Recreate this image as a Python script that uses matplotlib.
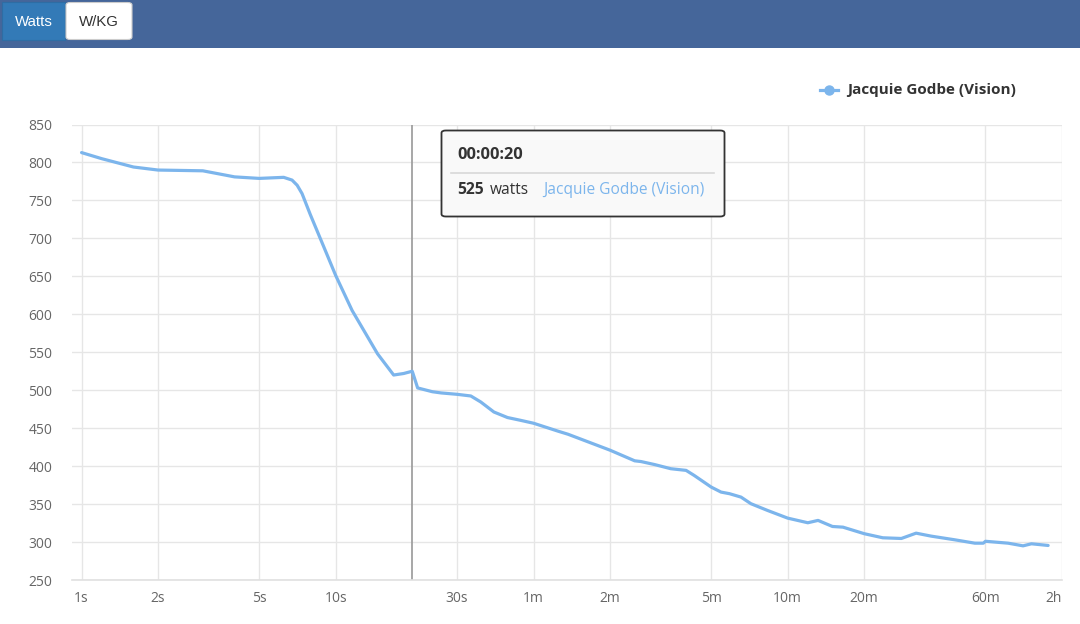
import matplotlib
matplotlib.use("Agg")
import matplotlib.pyplot as plt
from matplotlib.patches import FancyBboxPatch, Rectangle
from matplotlib.lines import Line2D

# ---- data ----
durations = [1, 1.2, 1.6, 2, 3, 4, 5, 6.24, 6.73, 7.05, 7.37, 7.95, 8.97, 10, 11.6, 14.6,
             16.9, 18.5, 20, 21, 24, 26, 30, 34, 37.2, 41.9, 47.4, 53.4, 60, 75, 82, 120,
             150, 159, 180, 208, 239, 257, 300, 328, 354, 393, 430, 500, 600, 720, 790,
             900, 990, 1200, 1420, 1680, 1920, 2200, 2720, 3270, 3530, 3600, 4420, 5060,
             5460, 6350]
watts = [813, 805, 794, 790, 789, 781, 779, 780.4, 776.8, 770, 759, 731, 689, 651, 605, 548,
         520, 522, 525, 503, 498, 496.4, 494.6, 492.4, 484.5, 471.3, 464, 460.3, 456.5, 446,
         442, 421, 407, 406, 402, 396.6, 394.4, 387.8, 372.4, 365.8, 363.7, 359.2, 350.5,
         341.6, 331.5, 325.4, 328.5, 320.5, 319.6, 311, 305.6, 304.7, 311.7, 307.8, 303,
         298.5, 298.5, 301, 298.5, 295, 297.7, 295.5]
tick_secs = [1, 2, 5, 10, 30, 60, 120, 300, 600, 1200, 3600, 7200]
tick_labels = ["1s", "2s", "5s", "10s", "30s", "1m", "2m", "5m", "10m", "20m", "60m", "2h"]
y_ticks = [250, 300, 350, 400, 450, 500, 550, 600, 650, 700, 750, 800, 850]
series_name = "Jacquie Godbe (Vision)"
tip_time = "00:00:20"
tip_sec = 20
tip_value = 525

FONT = ["Open Sans", "DejaVu Sans"]
plt.rcParams['font.family'] = FONT
LINE = "#7cb5ec"

fig = plt.figure(figsize=(10.8, 6.24), dpi=100)
W, H = 1080, 624

def fx(px):
    return px / W

def fy(py):
    return 1 - py / H

# ---- top bar ----
fig.patches.append(Rectangle((0, fy(47.5)), 1, 47.5 / H, transform=fig.transFigure,
                             facecolor="#45669a", edgecolor="none", zorder=0))
fig.patches.append(Rectangle((fx(2), fy(40)), 63 / W, 38 / H, transform=fig.transFigure,
                             facecolor="#337ab7", edgecolor="#2e6da4", lw=0.8, zorder=1))
fig.patches.append(FancyBboxPatch((fx(66), fy(39.5)), 66 / W, 37 / H,
                                  boxstyle="round,pad=0,rounding_size=0.004",
                                  transform=fig.transFigure, facecolor="white",
                                  edgecolor="#cccccc", lw=0.8, zorder=1))
fig.text(fx(34), fy(21.5), "Watts", color="white", fontsize=10.8, ha="center", va="center",
         family=["Liberation Sans", "DejaVu Sans"])
fig.text(fx(99), fy(21.5), "W/KG", color="#333333", fontsize=10.8, ha="center", va="center",
         family=["Liberation Sans", "DejaVu Sans"])

# ---- axes ----
ax = fig.add_axes([fx(72), fy(580), (1062 - 72) / W, (580 - 124.5) / H])
ax.plot(durations, watts, color=LINE, lw=2.3, solid_joinstyle="round",
        solid_capstyle="round", zorder=3)
ax.set_xscale("log")
ax.set_xlim(0.917, 7200)
ax.set_ylim(250, 850)
ax.set_xticks(tick_secs)
ax.set_xticklabels(tick_labels)
ax.minorticks_off()
ax.set_yticks(y_ticks)
ax.grid(True, color="#e6e6e6", lw=1.0, zorder=0)
for s in ["top", "right", "left"]:
    ax.spines[s].set_visible(False)
ax.spines["bottom"].set_color("#e0e0e0")
ax.spines["bottom"].set_linewidth(1.2)
ax.tick_params(axis="both", length=0, colors="#666666", labelsize=10)
ax.tick_params(axis="y", pad=14)
ax.tick_params(axis="x", pad=8)
xl = ax.get_xticklabels()
xl[-1].set_ha("right")

# crosshair
ax.axvline(tip_sec, color="#a0a0a0", lw=1.3, zorder=2)

# ---- tooltip ----
fig.patches.append(FancyBboxPatch((fx(441.5), fy(216.5)), 283 / W, 86 / H,
                                  boxstyle="round,pad=0,rounding_size=0.004",
                                  transform=fig.transFigure, facecolor="#f9f9f9",
                                  edgecolor="#333333", lw=1.3, zorder=5))
fig.lines.append(Line2D([fx(451), fx(714)], [fy(173), fy(173)], transform=fig.transFigure,
                        color="#d8d8d8", lw=1.2, zorder=6))
fig.text(fx(457), fy(155), tip_time, fontsize=11.8, fontweight="bold", color="#333333",
         ha="left", va="center", zorder=7)
fig.text(fx(457), fy(190), str(tip_value), fontsize=11.2, fontweight="bold",
         color="#333333", ha="left", va="center", zorder=7)
fig.text(fx(490), fy(190), "watts", fontsize=11.2, color="#333333",
         ha="left", va="center", zorder=7)
fig.text(fx(543), fy(190), series_name, fontsize=11.2, color=LINE,
         ha="left", va="center", zorder=7)

# ---- legend ----
fig.lines.append(Line2D([fx(820), fx(838)], [fy(90), fy(90)], transform=fig.transFigure,
                        color=LINE, lw=2.3))
fig.lines.append(Line2D([fx(829)], [fy(90)], transform=fig.transFigure, color=LINE,
                        marker="o", markersize=6.5, lw=0))
fig.text(fx(847), fy(90), series_name, fontsize=11, fontweight="bold", color="#333333",
         ha="left", va="center")

fig.savefig("out.png", dpi=100)
